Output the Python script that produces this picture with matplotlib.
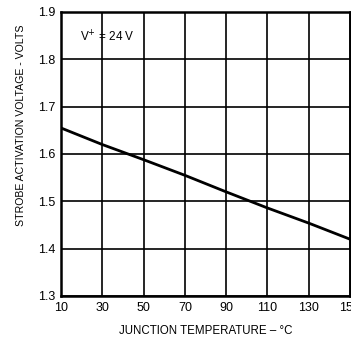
import matplotlib
matplotlib.use('Agg')
import matplotlib.pyplot as plt

plt.rcParams['font.family'] = ['Liberation Sans', 'DejaVu Sans']

# data
temp_c = [10, 30, 50, 70, 90, 110, 130, 150]
strobe_v = [1.655, 1.62, 1.588, 1.555, 1.52, 1.486, 1.454, 1.42]

x_ticks = [10, 30, 50, 70, 90, 110, 130, 150]
y_ticks = [1.3, 1.4, 1.5, 1.6, 1.7, 1.8, 1.9]

fig = plt.figure(figsize=(3.51, 3.37), dpi=100)
ax = fig.add_axes([61 / 351, 41 / 337, 289 / 351, 284 / 337])

ax.plot(temp_c, strobe_v, color='black', linewidth=2.0, solid_capstyle='butt')

ax.set_xlim(10, 150)
ax.set_ylim(1.3, 1.9)
ax.set_xticks(x_ticks)
ax.set_yticks(y_ticks)
ax.set_yticklabels([f'{v:.1f}' for v in y_ticks])
ax.tick_params(length=0, labelsize=9, pad=4)
ax.grid(True, color='black', linewidth=1.2)
for s in ax.spines.values():
    s.set_linewidth(1.8)

ax.text(19, 1.847, 'V$^{+}$ = 24 V', fontsize=8.5, va='center', ha='left')

ax.set_xlabel('JUNCTION TEMPERATURE – °C', fontsize=8.3, labelpad=8)
ax.set_ylabel('STROBE ACTIVATION VOLTAGE - VOLTS', fontsize=7.6)
ax.yaxis.set_label_coords(-0.121, 0.6)

plt.savefig('out.png', dpi=100)
plt.close()
